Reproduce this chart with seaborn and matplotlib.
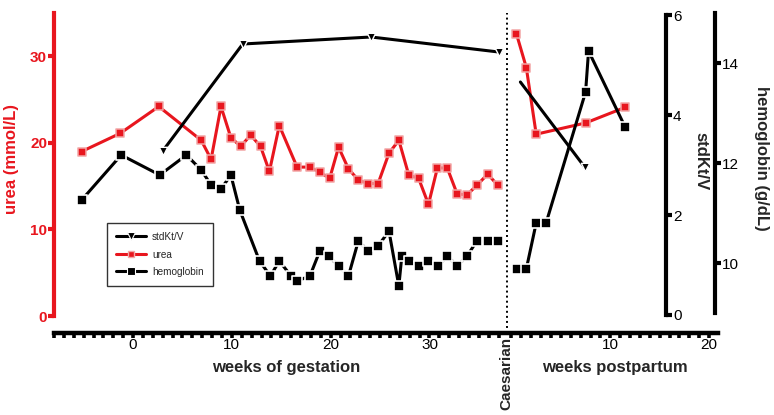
import matplotlib
matplotlib.use('Agg')
import matplotlib.pyplot as plt
import seaborn as sns
import pandas as pd
from matplotlib.lines import Line2D

sns.set_theme(style='ticks')
plt.rcParams['font.family'] = ['Liberation Sans', 'DejaVu Sans']

RED = '#e8161e'
PINK = '#f2a6a6'

# urea (mmol/L)
urea_gest_wk = [-5.2, -1.3, 2.6, 6.9, 7.9, 8.9, 9.9, 10.9, 11.9, 12.9, 13.8, 14.8, 16.6,
                17.9, 18.9, 19.9, 20.8, 21.8, 22.8, 23.8, 24.8, 25.9, 26.9, 27.9, 28.9,
                29.9, 30.8, 31.8, 32.8, 33.8, 34.8, 35.9, 36.9]
urea_gest = [19.0, 21.1, 24.2, 20.3, 18.1, 24.2, 20.6, 19.6, 20.9, 19.6, 16.7, 22.0, 17.2,
             17.2, 16.6, 15.9, 19.5, 17.0, 15.7, 15.3, 15.3, 18.8, 20.3, 16.3, 15.9,
             12.9, 17.1, 17.1, 14.1, 14.0, 15.1, 16.4, 15.1]
urea_pp_wk = [0.5, 1.5, 2.5, 7.5, 11.5]
urea_pp = [32.6, 28.7, 21.0, 22.3, 24.1]

# hemoglobin (g/dL)
hb_gest_wk = [-5.2, -1.2, 2.7, 5.4, 6.9, 7.9, 8.9, 9.9, 10.8, 12.8, 13.9, 14.8, 16.0,
              16.6, 17.9, 18.9, 19.8, 20.8, 21.8, 22.8, 23.8, 24.8, 25.9, 26.9, 27.2,
              27.9, 28.9, 29.9, 30.9, 31.8, 32.8, 33.8, 34.8, 35.9, 36.9]
hb_gest = [11.26, 12.16, 11.76, 12.16, 11.86, 11.56, 11.48, 11.76, 11.06, 10.04, 9.74, 10.04, 9.74,
           9.64, 9.74, 10.24, 10.14, 9.94, 9.74, 10.44, 10.24, 10.34, 10.64, 9.54, 10.14,
           10.04, 9.94, 10.04, 9.94, 10.14, 9.94, 10.14, 10.44, 10.44, 10.44]
hb_pp_wk = [0.6, 1.5, 2.5, 3.5, 7.5, 7.8, 11.5]
hb_pp = [9.88, 9.88, 10.8, 10.8, 13.42, 14.24, 12.72]

# stdKt/V
ktv_gest_wk = [3.0, 11.1, 24.1, 37.0]
ktv_gest = [3.28, 5.42, 5.56, 5.26]
ktv_pp_wk = [0.9, 7.4]
ktv_pp = [4.66, 2.96]
ktv_pp_marked = [False, True]

PP_SHIFT = 38.3     # week 0 postpartum on the shared x scale
CAESARIAN = 37.8


def make_df(gw, gv, pw, pv, pmark=None):
    g = pd.DataFrame({'x': gw, 'y': gv, 'phase': 'gestation', 'shown': True})
    p = pd.DataFrame({'x': [w + PP_SHIFT for w in pw], 'y': pv, 'phase': 'postpartum',
                      'shown': pmark if pmark is not None else True})
    return pd.concat([g, p], ignore_index=True)


def draw(axis, df, color, marker, size, edge, edge_w):
    sns.lineplot(data=df, x='x', y='y', units='phase', estimator=None, sort=False,
                 color=color, lw=2.2, ax=axis, legend=False)
    sns.scatterplot(data=df[df['shown']], x='x', y='y', color=color, marker=marker, s=size,
                    edgecolor=edge, linewidth=edge_w, ax=axis, legend=False, zorder=3)
    axis.set_xlabel('')
    axis.set_ylabel('')


urea_df = make_df(urea_gest_wk, urea_gest, urea_pp_wk, urea_pp)
hb_df = make_df(hb_gest_wk, hb_gest, hb_pp_wk, hb_pp)
ktv_df = make_df(ktv_gest_wk, ktv_gest, ktv_pp_wk, ktv_pp, ktv_pp_marked)

W, H = 774, 415
fig = plt.figure(figsize=(W / 100, H / 100), dpi=100)
ax = fig.add_axes([54 / W, 1 - 316 / H, 664 / W, 303 / H])
ax2 = ax.twinx()
ax3 = ax.twinx()

draw(ax, urea_df, RED, 's', 26, PINK, 1.1)
draw(ax2, ktv_df, 'black', 'v', 36, 'white', 1.0)
draw(ax3, hb_df, 'black', 's', 42, 'white', 1.2)

# x axis (shared): gestation weeks then postpartum weeks
ax.set_xlim(-7.98, 59.2)
xt = list(range(-8, 38)) + [PP_SHIFT + k for k in range(0, 21)]
xl = [str(w) if w in (0, 10, 20, 30) else '' for w in range(-8, 38)] + \
     [str(k) if k in (10, 20) else '' for k in range(0, 21)]
ax.set_xticks(xt, xl, fontweight='bold', fontsize=11)
ax.spines['bottom'].set_position(('outward', 12.2))
ax.spines['bottom'].set_linewidth(3.2)
ax.spines['bottom'].set_color('black')
ax.tick_params(axis='x', length=3.6, width=2.6, color='black', pad=0.3, labelcolor='black')

# urea axis
ax.set_ylim(0, 35)
ax.set_yticks([0, 10, 20, 30], ['0', '10', '20', '30'], fontweight='bold', fontsize=11)
ax.spines['left'].set_color(RED)
ax.spines['left'].set_linewidth(3)
ax.tick_params(axis='y', length=4, width=3, color=RED, labelcolor=RED, pad=1)
ax.spines['top'].set_visible(False)
ax.spines['right'].set_visible(False)

# stdKt/V axis
ax2.set_ylim(-0.02, 6.04)
ax2.set_yticks([0, 2, 4, 6], ['0', '2', '4', '6'], fontweight='bold', fontsize=11)
for s in ['left', 'top', 'bottom']:
    ax2.spines[s].set_visible(False)
ax2.spines['right'].set_position(('axes', (666 - 54) / 664))
ax2.spines['right'].set_bounds(0, 6)
ax2.spines['right'].set_linewidth(3)
ax2.spines['right'].set_color('black')
ax2.tick_params(axis='y', length=4, width=3, color='black', labelcolor='black', pad=1)

# hemoglobin axis
ax3.set_ylim(8.94, 15.0)
ax3.set_yticks([10, 12, 14], ['10', '12', '14'], fontweight='bold', fontsize=11)
for s in ['left', 'top', 'bottom']:
    ax3.spines[s].set_visible(False)
ax3.spines['right'].set_position(('axes', (715 - 54) / 664))
ax3.spines['right'].set_bounds(9, 15)
ax3.spines['right'].set_linewidth(3)
ax3.spines['right'].set_color('black')
ax3.tick_params(axis='y', length=4, width=3, color='black', labelcolor='black', pad=1)

# caesarian marker
ax.axvline(CAESARIAN, ymin=-17 / 303, ymax=1, color='black', ls=(0, (1, 1.6)), lw=1.4,
           clip_on=False)

# legend
handles = [
    Line2D([], [], color='black', lw=2.2, marker='v', ms=6, mec='white', mew=0.8, label='stdKt/V'),
    Line2D([], [], color=RED, lw=2.2, marker='s', ms=5, mfc=RED, mec=PINK, mew=1.0, label='urea'),
    Line2D([], [], color='black', lw=2.2, marker='s', ms=6.2, mec='white', mew=0.8, label='hemoglobin'),
]
leg = ax3.legend(handles=handles, loc='upper left',
                 bbox_to_anchor=((107 - 54) / 664, 1 - (223 - 13) / 303),
                 frameon=True, fancybox=False, edgecolor='black', fontsize=7.2,
                 handlelength=3.0, borderpad=0.9, labelspacing=0.75, handletextpad=0.6,
                 borderaxespad=0)
leg.get_frame().set_linewidth(1.0)

# labels
fig.text(12 / W, 1 - 159 / H, 'urea (mmol/L)', rotation=90, ha='center', va='center',
         color=RED, fontweight='bold', fontsize=12)
fig.text(701 / W, 1 - 161 / H, 'stdKt/V', rotation=270, ha='center', va='center',
         fontweight='bold', fontsize=12)
fig.text(762 / W, 1 - 158 / H, 'hemoglobin (g/dL)', rotation=270, ha='center', va='center',
         fontweight='bold', fontsize=12)
fig.text(286 / W, 1 - 367 / H, 'weeks of gestation', ha='center', va='center',
         fontweight='bold', fontsize=12)
fig.text(615 / W, 1 - 367 / H, 'weeks postpartum', ha='center', va='center',
         fontweight='bold', fontsize=12)
fig.text(506 / W, 1 - 373 / H, 'Caesarian', rotation=90, ha='center', va='center',
         fontweight='bold', fontsize=11)

fig.savefig('out.png', dpi=100)
plt.close(fig)
